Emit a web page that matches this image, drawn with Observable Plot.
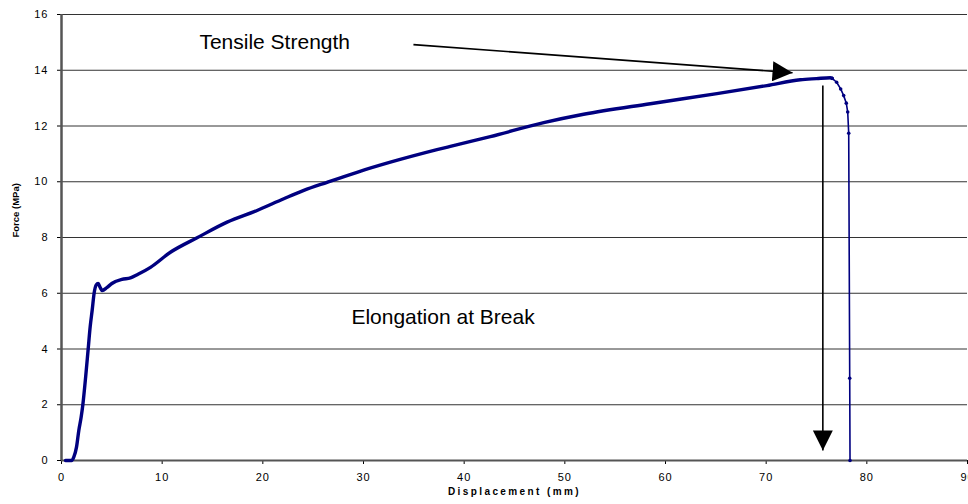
<!DOCTYPE html>
<html><head><meta charset="utf-8">
<script src="https://cdn.jsdelivr.net/npm/d3@7"></script>
<script src="https://cdn.jsdelivr.net/npm/@observablehq/plot@0.6"></script>
<style>
body{margin:0;background:#fff;overflow:hidden}
#chart svg{display:block;font-family:"Liberation Sans",Arial,sans-serif}
</style>
</head><body><div id="chart"></div>
<script>
// Main stress–strain curve
const displacement = [0.4, 1.0, 1.22, 1.49, 1.72, 1.95, 2.12, 2.4, 2.65, 2.85, 3.05, 3.24, 3.45, 3.64, 3.85, 4.04, 4.5, 5.0, 6.0, 6.85, 7.6, 8.84, 10.82, 13.47, 16.45, 19.43, 22.08, 24.07, 26.38, 29.36, 32.67, 37.3, 38.63, 42.6, 47.9, 51.87, 58.49, 65.11, 70.08, 73.39, 75.0, 76.37, 76.55];
const force        = [0.0, 0.0, 0.12, 0.48, 1.08, 1.55, 2.0, 3.0, 4.0, 4.8, 5.4, 6.0, 6.3, 6.35, 6.2, 6.1, 6.2, 6.35, 6.5, 6.55, 6.68, 6.93, 7.47, 7.99, 8.55, 8.97, 9.39, 9.69, 9.98, 10.34, 10.70, 11.15, 11.27, 11.62, 12.12, 12.42, 12.80, 13.16, 13.45, 13.66, 13.70, 13.73, 13.71];
// Failure drop after the peak
const tailDisplacement = [76.55, 77.0, 77.4, 77.7, 77.96, 78.1, 78.2, 78.3, 78.33];
const tailForce        = [13.71, 13.57, 13.33, 13.09, 12.82, 12.5, 11.74, 2.95, 0.0];

const xTicks = [0, 10, 20, 30, 40, 50, 60, 70, 80, 90];
const yTicks = [0, 2, 4, 6, 8, 10, 12, 14, 16];
const gridTicks = [2, 4, 6, 8, 10, 12, 14, 16];

const xTitle = "Displacement (mm)";
const yTitle = "Force (MPa)";

// Annotations
const labelText = ["Tensile Strength", "Elongation at Break"];
const labelX = [13.7, 37.9];
const labelY = [15.0, 5.13];
const arrowX1 = [34.96, 75.63];
const arrowY1 = [14.92, 13.45];
const arrowX2 = [72.62, 75.63];
const arrowY2 = [13.91, 0.36];

const curve = displacement.map((d, i) => ({x: d, y: force[i]}));
const tail = tailDisplacement.map((d, i) => ({x: d, y: tailForce[i]}));
const labels = labelText.map((t, i) => ({t, x: labelX[i], y: labelY[i]}));
const arrows = arrowX1.map((d, i) => ({x1: d, y1: arrowY1[i], x2: arrowX2[i], y2: arrowY2[i]}));

function filledHead(color) {
  const m = d3.create("svg:marker")
    .attr("viewBox", "-20 -10 20 20")
    .attr("markerWidth", 20)
    .attr("markerHeight", 20)
    .attr("markerUnits", "userSpaceOnUse")
    .attr("refX", 0).attr("refY", 0)
    .attr("orient", "auto");
  m.append("path").attr("d", "M-20,-10L0,0L-20,10Z").attr("fill", color).attr("stroke", "none");
  return m.node();
}

const navy = "#000080";

const chart = Plot.plot({
  width: 968,
  height: 504,
  marginLeft: 61,
  marginRight: 1,
  marginTop: 14,
  marginBottom: 44,
  style: {fontFamily: "'Liberation Sans', Arial, sans-serif", fontSize: "11px", color: "#000", background: "#fff"},
  x: {domain: [0, 90], ticks: xTicks, tickSize: 4, tickPadding: 9, label: null},
  y: {domain: [0, 16], ticks: yTicks, tickSize: 4, tickPadding: 9, label: null},
  marks: [
    Plot.ruleY(gridTicks, {stroke: "#333", strokeWidth: 1}),
    Plot.ruleX([0], {stroke: "#555", strokeWidth: 2.5}),
    Plot.ruleY([0], {stroke: "#555", strokeWidth: 2}),
    Plot.line(curve, {x: "x", y: "y", stroke: navy, strokeWidth: 3.4, curve: "monotone-x"}),
    Plot.line(tail, {x: "x", y: "y", stroke: navy, strokeWidth: 1.6}),
    Plot.dot(tail, {x: "x", y: "y", fill: navy, r: 1.8}),
    Plot.link(arrows, {x1: "x1", y1: "y1", x2: "x2", y2: "y2", stroke: "#000", strokeWidth: 1.6, markerEnd: filledHead}),
    Plot.text(labels, {x: "x", y: "y", text: "t", textAnchor: "start", fontSize: 21, fill: "#000", filter: (d, i) => i === 0}),
    Plot.text(labels, {x: "x", y: "y", text: "t", textAnchor: "middle", fontSize: 21, fill: "#000", filter: (d, i) => i === 1}),
    Plot.text([xTitle], {frameAnchor: "bottom", text: d => d, dy: 34, fontSize: 10, fontWeight: "bold", fill: "#000"}),
    Plot.text([yTitle], {frameAnchor: "left", text: d => d, dx: -46, rotate: -90, fontSize: 9.5, fontWeight: "bold", fill: "#000"})
  ]
});
const svg = d3.select(chart);
svg.selectAll("g[aria-label='x-axis tick label'] text, g[aria-label='y-axis tick label'] text").style("letter-spacing", "1px");
svg.selectAll("text").filter(function () { return this.textContent === xTitle; }).style("letter-spacing", "2.4px");
document.getElementById("chart").appendChild(chart);
</script>
</body></html>
